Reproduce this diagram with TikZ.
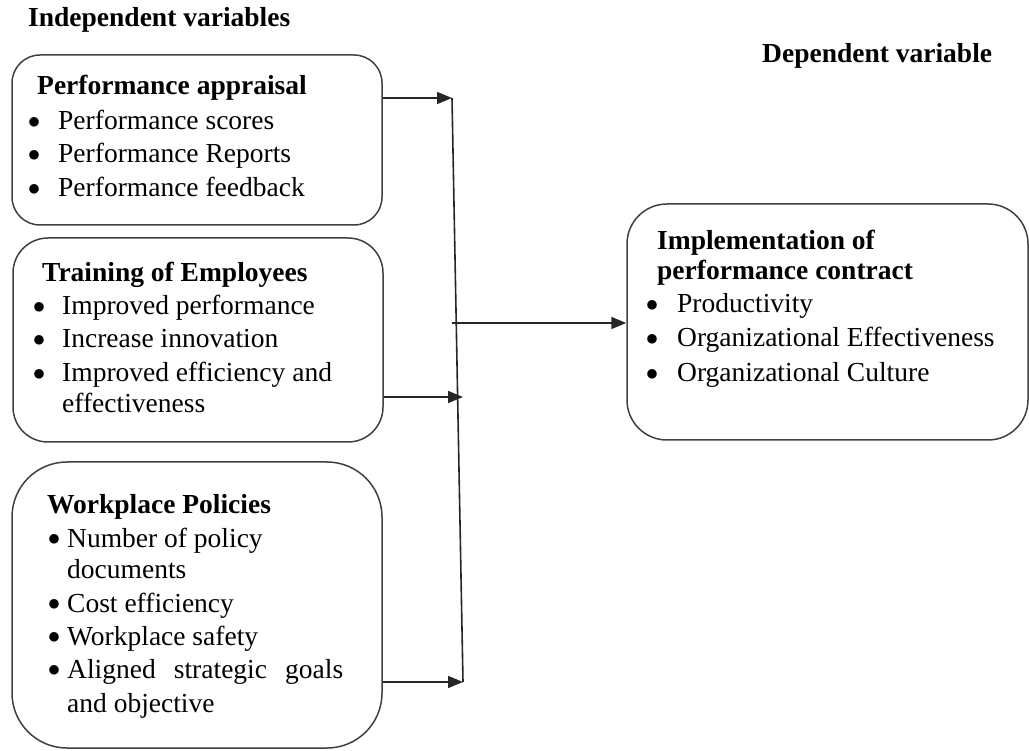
\documentclass[tikz,border=0pt]{standalone}
\usepackage{fontspec}
\setmainfont{Liberation Serif}
\usetikzlibrary{arrows.meta}

% enlarged bullet set in a box of fixed width, so the item text starts at a fixed indent
\newcommand{\itembullet}[1]{\makebox[#1][l]{\smash{\raisebox{-0.2em}{\scalebox{1.45}{\textbullet}}}}}

\begin{document}
\begin{tikzpicture}[x=1pt,y=-1pt,
  varbox/.style={draw=black!75, line width=1.5pt, rectangle, inner sep=0pt},
  txt/.style={anchor=base west, inner sep=0pt, font=\fontsize{27.5}{33}\selectfont},
  head/.style={txt, font=\fontsize{27.5}{33}\selectfont\bfseries},
  link/.style={draw=black!85, line width=1.6pt},
  arrowlink/.style={link, -{Triangle[length=15pt,width=12pt]}}]
\useasboundingbox (0,0) rectangle (1029,751);

% column titles
\node[head] (indep) at (28,27) {Independent variables};
\node[head] (dep) at (762,63) {Dependent variable};

% boxes of the variables
\node[varbox, rounded corners=28pt, minimum width=370pt, minimum height=170pt] (b1) at (197,140) {};
\node[varbox, rounded corners=35pt, minimum width=370pt, minimum height=204pt] (b2) at (198,340) {};
\node[varbox, rounded corners=55pt, minimum width=370pt, minimum height=286pt] (b3) at (197,605) {};
\node[varbox, rounded corners=40pt, minimum width=401pt, minimum height=236pt] (b4) at (827.5,322) {};

% performance appraisal
\node[head] (b1h) at (37,95) {Performance appraisal};
\node[txt] (b1a) at (27,130) {\itembullet{31pt}Performance scores};
\node[txt] (b1b) at (27,163) {\itembullet{31pt}Performance Reports};
\node[txt] (b1c) at (27,197) {\itembullet{31pt}Performance feedback};

% training of employees
\node[head] (b2h) at (42,282) {Training of Employees};
\node[txt] (b2a) at (32,315) {\itembullet{30pt}Improved performance};
\node[txt] (b2b) at (32,348) {\itembullet{30pt}Increase innovation};
\node[txt] (b2c) at (32,382) {\itembullet{30pt}Improved efficiency and};
\node[txt] (b2d) at (62,413) {effectiveness};

% workplace policies
\node[head] (b3h) at (47,513) {Workplace Policies};
\node[txt] (b3a) at (47,547) {\itembullet{20pt}Number of policy};
\node[txt] (b3b) at (67,578) {documents};
\node[txt] (b3c) at (47,612) {\itembullet{20pt}Cost efficiency};
\node[txt] (b3d) at (47,645) {\itembullet{20pt}Workplace safety};
\node[txt] (b3e) at (47,678) {\itembullet{20pt}\makebox[276pt][s]{Aligned strategic goals}};
\node[txt] (b3f) at (67,712) {and objective};

% dependent variable
\node[head] (b4h) at (657,250) {Implementation of};
\node[head] (b4i) at (657,280) {performance contract};
\node[txt] (b4a) at (645,313) {\itembullet{32pt}Productivity};
\node[txt] (b4b) at (645,347) {\itembullet{32pt}Organizational Effectiveness};
\node[txt] (b4c) at (645,382) {\itembullet{32pt}Organizational Culture};

% connectors
\coordinate (j1) at (452,98);
\coordinate (j2) at (463,397);
\coordinate (j3) at (463,682);
\coordinate (m) at (452,323);
\draw[arrowlink] (b1.east |- j1) -- (j1);
\draw[link] (j1) -- (j3);
\draw[arrowlink] (b2.east |- j2) -- (j2);
\draw[arrowlink] (b3.east |- j3) -- (j3);
\draw[arrowlink] (m) -- (b4.west |- m);
\end{tikzpicture}
\end{document}
